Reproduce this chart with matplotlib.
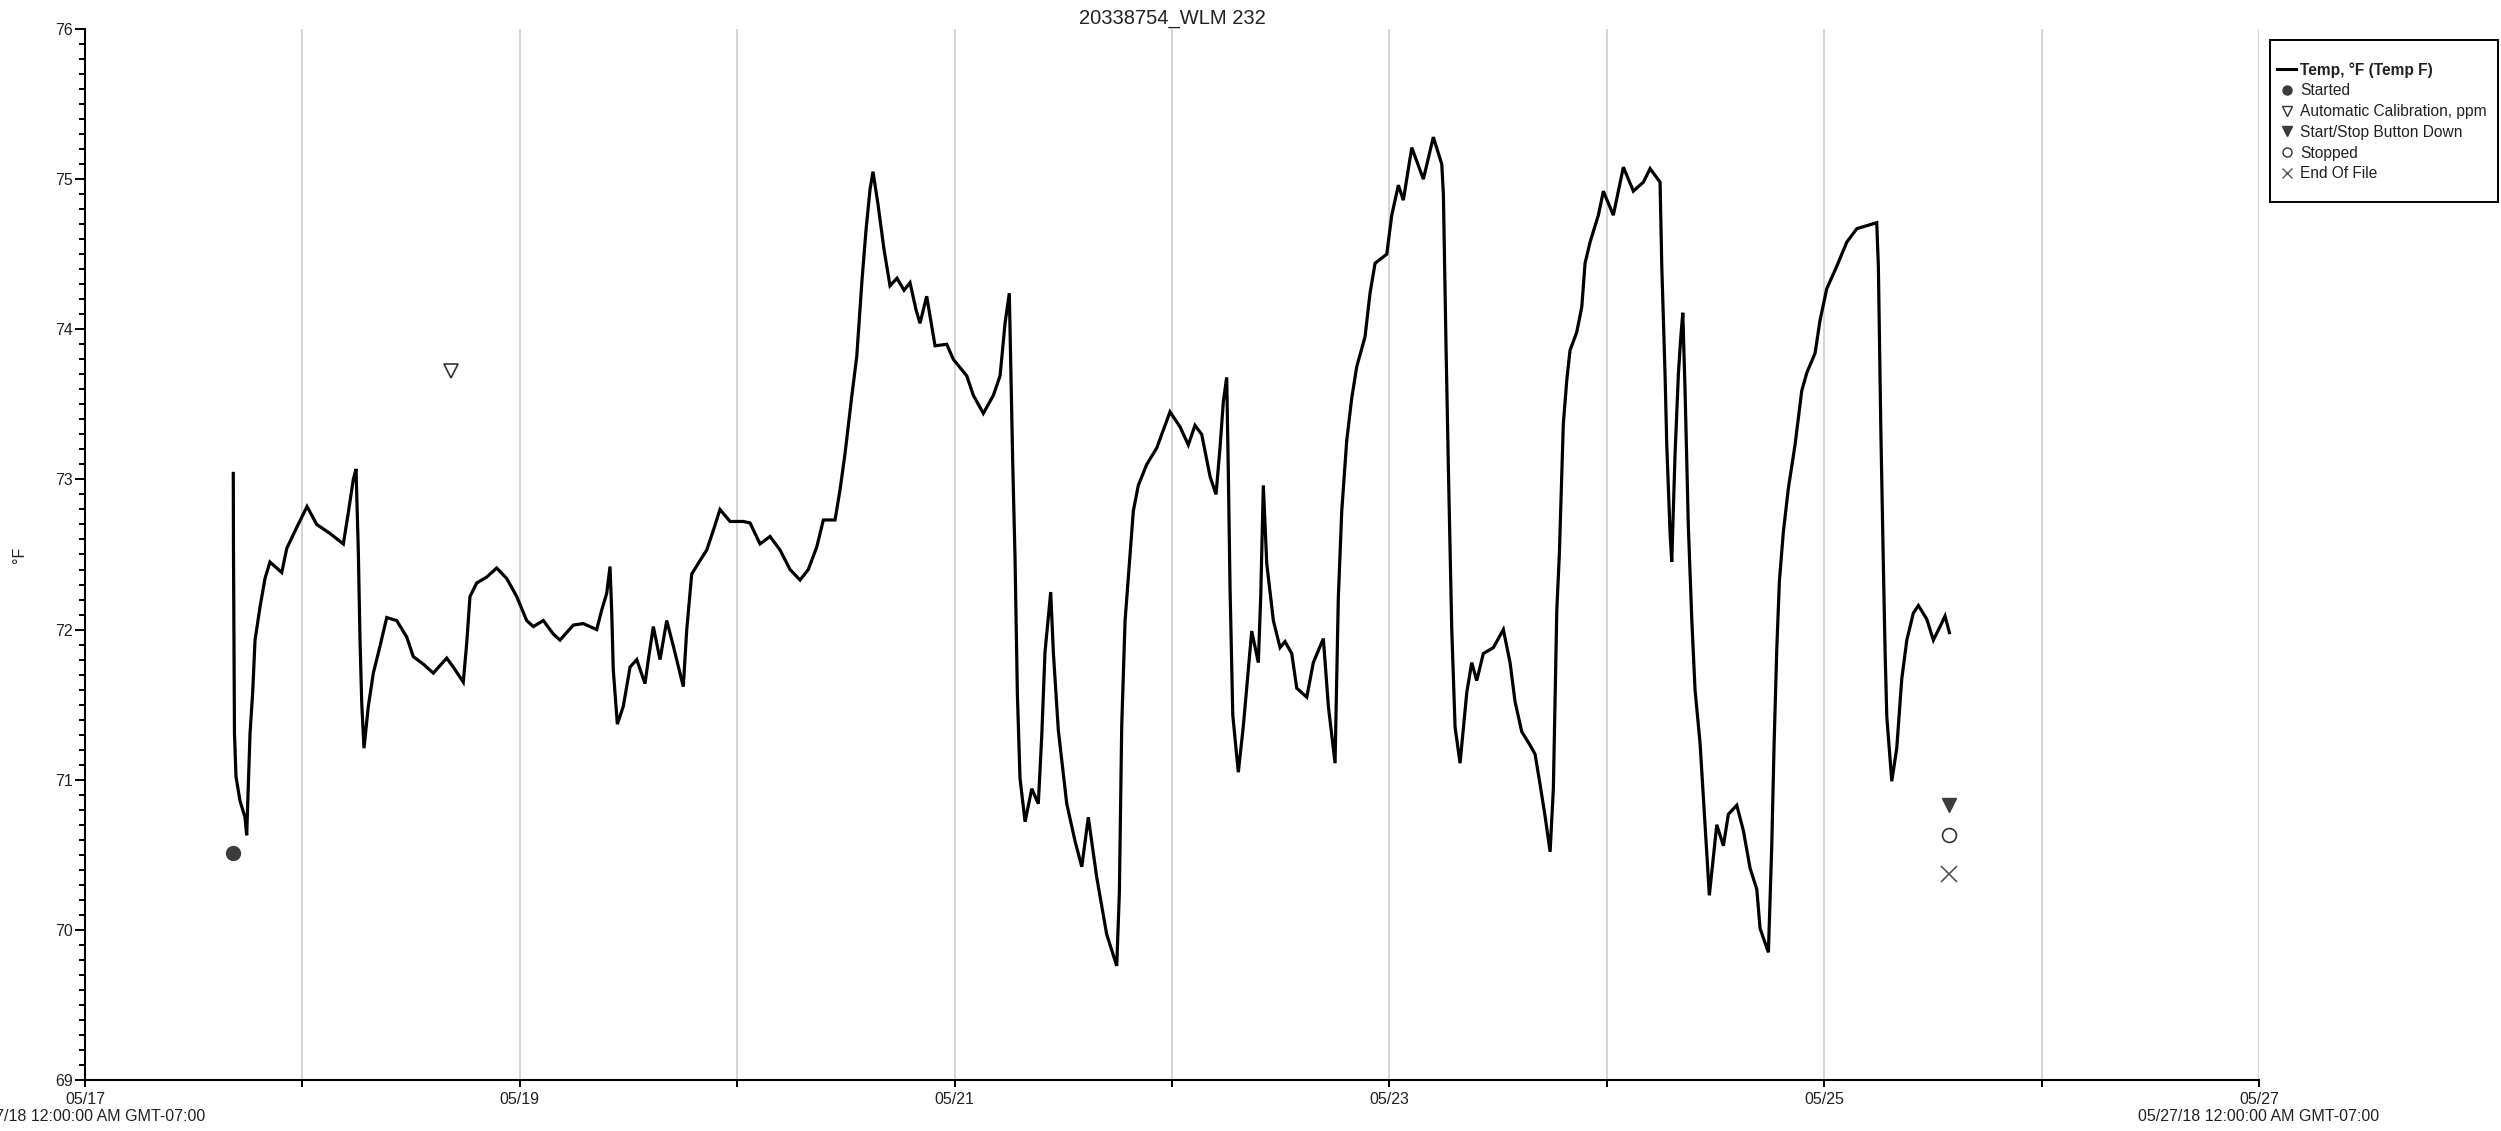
import matplotlib
matplotlib.use("Agg")
import matplotlib.pyplot as plt
import matplotlib.dates as mdates
from matplotlib.lines import Line2D
from matplotlib.patches import Rectangle
from matplotlib.ticker import MultipleLocator, FuncFormatter
import pandas as pd

plt.rcParams['font.family'] = ['Liberation Sans', 'DejaVu Sans']

# ---- data (hours after 05/17/18 00:00, temperature in deg F) ----
hours = [16.37,16.39,16.50,16.67,17.11,17.66,17.85,18.22,18.51,18.77,19.32,19.87,20.42,20.98,21.72,22.27,23.37,24.51,25.58,27.05,
         28.52,29.07,29.62,29.92,30.17,30.36,30.55,30.80,31.28,31.83,32.57,33.31,34.41,35.52,36.24,37.35,38.45,39.93,40.66,41.76,
         42.14,42.50,43.24,44.35,45.45,46.56,47.66,48.76,49.49,50.60,51.70,52.44,53.91,55.01,56.49,57.04,57.59,57.96,58.15,58.32,
         58.77,59.43,60.17,60.91,61.82,62.19,62.74,63.48,64.22,64.95,66.05,66.43,66.98,67.90,68.64,69.36,70.10,71.21,72.68,73.42,
         74.52,75.62,76.73,77.83,78.94,79.85,80.78,81.51,82.80,83.35,83.90,84.64,85.20,85.78,86.22,86.66,86.99,87.55,88.21,88.87,
         89.64,90.42,91.08,91.74,92.18,92.92,93.84,95.13,95.86,97.34,98.07,99.17,100.28,101.02,101.57,102.04,102.42,102.67,102.93,103.22,
         103.78,104.52,105.24,105.62,105.98,106.61,106.90,107.45,108.38,109.30,110.04,110.76,111.69,112.79,113.90,114.19,114.45,114.82,115.29,115.73,
         116.28,117.21,118.32,119.78,120.89,121.80,122.54,123.28,124.20,124.86,125.30,125.67,126.04,126.22,126.41,126.71,127.32,127.88,128.43,128.80,
         129.53,129.80,130.08,130.46,131.19,131.93,132.48,133.22,133.77,134.88,135.60,136.71,137.26,138.00,138.36,138.74,139.29,139.84,140.39,141.31,
         141.86,142.42,143.71,144.26,144.99,145.54,146.47,147.75,148.85,149.78,149.96,150.25,150.51,150.88,151.25,151.80,152.54,153.09,153.64,154.37,
         155.48,156.58,157.32,157.87,158.61,159.53,160.08,160.63,161.18,161.74,162.10,162.48,162.76,163.03,163.20,163.58,163.94,164.68,165.24,165.60,
         166.15,167.07,167.62,168.72,169.83,170.93,172.04,172.78,173.88,174.07,174.43,174.62,174.98,175.17,175.53,175.90,176.17,176.39,176.64,177.00,
         177.38,177.74,178.30,178.66,179.32,180.14,180.87,181.42,182.35,183.08,183.82,184.56,184.92,185.84,186.21,186.47,186.76,187.05,187.49,188.04,
         188.78,189.52,190.08,190.99,191.54,192.28,193.39,194.49,195.60,196.70,197.80,197.98,198.25,198.53,198.72,198.91,199.46,200.01,200.56,201.12,
         201.84,202.40,203.32,204.05,204.79,205.34,205.82]

temps = [73.04,72.55,71.31,71.02,70.86,70.75,70.63,71.31,71.58,71.93,72.15,72.34,72.45,72.42,72.38,72.54,72.68,72.82,72.70,72.64,
         72.57,72.78,73.00,73.07,72.53,71.93,71.51,71.21,71.49,71.71,71.89,72.08,72.06,71.95,71.82,71.77,71.71,71.81,71.75,71.65,
         71.91,72.22,72.31,72.35,72.41,72.34,72.22,72.06,72.02,72.06,71.97,71.93,72.03,72.04,72.00,72.13,72.24,72.42,72.11,71.73,
         71.37,71.49,71.75,71.80,71.64,71.80,72.02,71.80,72.06,71.89,71.62,72.00,72.37,72.46,72.53,72.66,72.80,72.72,72.72,72.71,
         72.57,72.62,72.53,72.40,72.33,72.40,72.55,72.73,72.73,72.93,73.17,73.55,73.82,74.33,74.66,74.93,75.05,74.83,74.53,74.29,
         74.34,74.26,74.31,74.13,74.04,74.22,73.89,73.90,73.80,73.69,73.56,73.44,73.56,73.69,74.04,74.24,73.10,72.48,71.57,71.01,
         70.72,70.94,70.84,71.29,71.85,72.25,71.85,71.33,70.84,70.59,70.42,70.75,70.35,69.97,69.76,70.25,71.36,72.06,72.44,72.79,
         72.96,73.10,73.21,73.45,73.35,73.23,73.36,73.30,73.02,72.90,73.21,73.52,73.68,73.04,72.27,71.43,71.05,71.36,71.74,71.99,
         71.78,72.23,72.96,72.44,72.06,71.88,71.92,71.84,71.61,71.55,71.78,71.94,71.49,71.11,72.21,72.79,73.26,73.54,73.75,73.95,
         74.24,74.44,74.50,74.76,74.96,74.86,75.21,75.00,75.28,75.10,74.90,73.89,73.08,72.01,71.35,71.11,71.58,71.78,71.66,71.84,
         71.88,72.00,71.78,71.52,71.32,71.23,71.17,70.97,70.76,70.52,70.94,72.13,72.50,73.02,73.37,73.66,73.86,73.98,74.15,74.44,
         74.58,74.76,74.92,74.76,75.08,74.92,74.98,75.07,74.98,74.42,73.70,73.23,72.65,72.45,73.16,73.70,73.95,74.11,73.59,72.69,
         72.07,71.60,71.24,70.88,70.23,70.70,70.56,70.77,70.83,70.66,70.41,70.27,70.01,69.85,70.56,71.24,71.86,72.32,72.65,72.94,
         73.23,73.59,73.71,73.84,74.06,74.27,74.42,74.58,74.67,74.69,74.71,74.42,73.34,72.43,71.86,71.42,70.99,71.21,71.67,71.93,
         72.11,72.16,72.07,71.93,72.02,72.09,71.98]

event_names = ["Started", "Automatic Calibration, ppm", "Start/Stop Button Down", "Stopped", "End Of File"]
event_hours = [16.37, 40.45, 205.80, 205.80, 205.80]
event_vals = [70.51, 73.72, 70.83, 70.63, 70.37]

title = "20338754_WLM 232"
series_label = "Temp, \u00b0F (Temp F)"
y_label = "\u00b0F"
tz_suffix = "12:00:00 AM GMT-07:00"

base = pd.Timestamp("2018-05-17 00:00:00")
t = base + pd.to_timedelta(hours, unit="h")
te = base + pd.to_timedelta(event_hours, unit="h")

W, H = 2501, 1131
fig = plt.figure(figsize=(W / 100, H / 100), dpi=100)
ax = fig.add_axes([85 / W, 1 - 1080 / H, (2259 - 85) / W, (1080 - 29) / H])

txt_color = "#222222"
ax.plot(t, temps, color="black", lw=2.3, zorder=3, solid_joinstyle="miter")

mk_dark = "#3c3c3c"
styles = [
    dict(marker="o", color=mk_dark, ms=10, mfc=mk_dark, mec=mk_dark),
    dict(marker="v", color="#333333", ms=10, mfc="white", mec="#333333", mew=1.2),
    dict(marker="v", color=mk_dark, ms=10, mfc=mk_dark, mec=mk_dark),
    dict(marker="o", color="#333333", ms=10, mfc="white", mec="#333333", mew=1.2),
    dict(marker="x", color="#555555", ms=11, mew=1.2),
]
for i in range(len(event_names)):
    ax.plot([te[i]], [event_vals[i]], linestyle="none", zorder=4, **styles[i])

ax.set_xlim(pd.Timestamp("2018-05-17"), pd.Timestamp("2018-05-27"))
ax.set_ylim(69, 76)

ax.xaxis.set_major_locator(mdates.DayLocator(interval=1))

def xfmt(x, pos=None):
    d = mdates.num2date(x)
    if d.day in (17, 27):
        return f"{d:%m/%d}\n{d:%m/%d/%y} {tz_suffix}"
    if d.day % 2 == 1:
        return f"{d:%m/%d}"
    return ""

ax.xaxis.set_major_formatter(FuncFormatter(xfmt))
ax.yaxis.set_major_locator(MultipleLocator(1))
ax.yaxis.set_minor_locator(MultipleLocator(0.1))

ax.grid(axis="x", which="major", color="#d2d2d2", lw=1.3, zorder=0)
ax.set_axisbelow(True)

for s in ("top", "right"):
    ax.spines[s].set_visible(False)
for s in ("left", "bottom"):
    ax.spines[s].set_linewidth(1.5)
    ax.spines[s].set_color("black")

ax.tick_params(axis="y", which="major", direction="out", length=7.5, width=1.4, pad=1.5,
               labelsize=11.5, labelcolor=txt_color)
ax.tick_params(axis="y", which="minor", direction="out", length=4.5, width=1.4)
ax.tick_params(axis="x", which="major", direction="out", length=5, width=1.4, pad=3.5,
               labelsize=11.5, labelcolor=txt_color)
for lab in ax.get_xticklabels():
    lab.set_linespacing(1.2)

ax.set_ylabel(y_label, fontsize=11.5, color=txt_color)
ax.yaxis.set_label_coords((27 - 85) / (2259 - 85), 0.5)

ax.set_title(title, fontsize=14.5, color=txt_color, pad=4)

# legend
handles = [Line2D([], [], color="black", lw=2.2)]
leg_styles = [
    dict(marker="o", color=mk_dark, ms=6.5, mfc=mk_dark, mec=mk_dark),
    dict(marker="v", color="#333333", ms=7, mfc="white", mec="#333333", mew=1.0),
    dict(marker="v", color=mk_dark, ms=7, mfc=mk_dark, mec=mk_dark),
    dict(marker="o", color="#333333", ms=6.5, mfc="white", mec="#333333", mew=1.0),
    dict(marker="x", color="#555555", ms=7.5, mew=1.0),
]
for st in leg_styles:
    handles.append(Line2D([], [], linestyle="none", **st))
labels = [series_label] + event_names
leg = fig.legend(handles, labels, loc="upper left",
                 bbox_to_anchor=(2277 / W, 1 - 62 / H), bbox_transform=fig.transFigure,
                 frameon=False, borderpad=0, borderaxespad=0, fontsize=11.2,
                 handlelength=1.25, handletextpad=0.25, labelspacing=0.37,
                 markerscale=1.0, labelcolor=txt_color)
leg.get_texts()[0].set_fontweight("bold")
fig.add_artist(Rectangle((2270 / W, 1 - 202 / H), 228 / W, 162 / H,
                         transform=fig.transFigure, fill=False,
                         edgecolor="black", lw=1.4))

fig.savefig("out.png", dpi=100)
